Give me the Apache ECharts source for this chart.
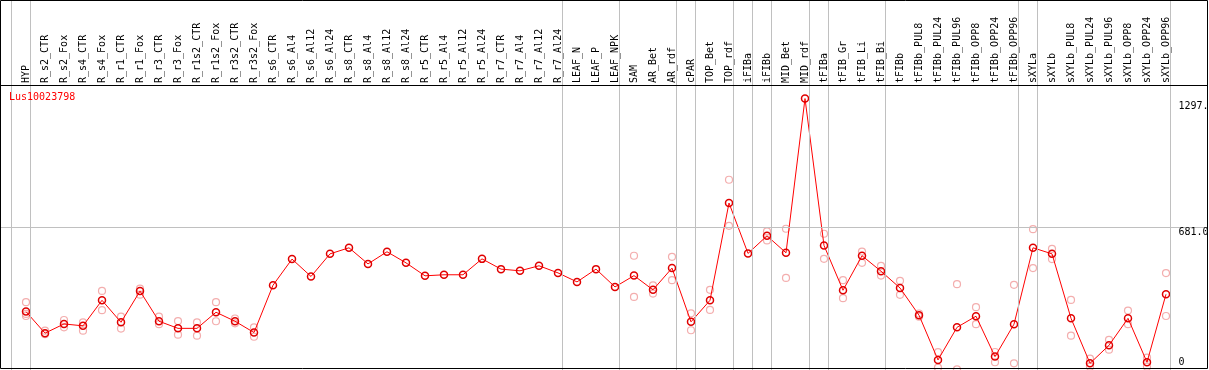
<!DOCTYPE html>
<html><head><meta charset="utf-8">
<script src="https://cdn.jsdelivr.net/npm/echarts@6/dist/echarts.min.js"></script>
<style>html,body{margin:0;padding:0;background:#fff}#c{width:1209px;height:370px}</style>
</head><body><div id="c"></div>
<script>
const categories = ['HYP','R_s2_CTR','R_s2_Fox','R_s4_CTR','R_s4_Fox','R_r1_CTR','R_r1_Fox','R_r3_CTR','R_r3_Fox','R_r1s2_CTR','R_r1s2_Fox','R_r3s2_CTR','R_r3s2_Fox','R_s6_CTR','R_s6_Al4','R_s6_Al12','R_s6_Al24','R_s8_CTR','R_s8_Al4','R_s8_Al12','R_s8_Al24','R_r5_CTR','R_r5_Al4','R_r5_Al12','R_r5_Al24','R_r7_CTR','R_r7_Al4','R_r7_Al12','R_r7_Al24','LEAF_N','LEAF_P','LEAF_NPK','SAM','AR_Bet','AR_rdf','cPAR','TOP_Bet','TOP_rdf','iFIBa','iFIBb','MID_Bet','MID_rdf','tFIBa','tFIB_Gr','tFIB_Li','tFIB_Bi','tFIBb','tFIBb_PUL8','tFIBb_PUL24','tFIBb_PUL96','tFIBb_OPP8','tFIBb_OPP24','tFIBb_OPP96','sXYLa','sXYLb','sXYLb_PUL8','sXYLb_PUL24','sXYLb_PUL96','sXYLb_OPP8','sXYLb_OPP24','sXYLb_OPP96'];
const meanValues = [279,176,220,211,333,228,377,233,199,199,276,233,179,405,530,447,555,584,507,565,512,450,455,455,531,482,474,498,464,421,482,397,451,383,487,230,333,798,557,641,560,1297,595,381,546,472,392,262,48,204,257,64,219,584,555,247,32,118,247,37,362];
const repHigh = [324,188,239,228,378,255,389,255,234,228,324,246,204,null,null,null,null,null,null,null,null,null,null,null,null,null,null,null,null,null,null,null,546,404,541,271,383,909,null,662,675,null,651,429,566,498,426,270,85,410,300,86,407,673,579,335,54,144,284,59,463];
const repLow = [268,171,204,188,286,198,360,219,169,164,233,223,159,null,null,null,null,null,null,null,null,null,null,null,null,null,null,null,null,null,null,null,349,365,429,190,287,689,null,619,440,null,531,343,512,451,359,255,11,3,219,37,32,487,530,164,16,97,219,16,258];
const repExtra = [258,null,null,null,null,null,null,null,null,null,null,null,null,null,null,null,null,null,null,null,null,null,null,null,null,null,null,null,null,null,null,null,null,null,null,null,null,null,null,null,null,null,null,null,null,null,null,null,null,null,null,null,null,null,null,null,null,null,null,null,null];
const separatorAfter = [-1,0,28,31,34,35,37,38,39,41,42,45,52,53,60];
const gridLineValues = [681];
const yTickValues = [0, 681, 1297];
const yTickLabels = ['0', '681.0', '1297.'];
const titleText = 'Lus10023798';

const FONT = 'DejaVu Sans Mono';
const X_MIN = -26 / 19, X_MAX = X_MIN + 1208 / 19;
const Y_MAX = 1768;
const chart = echarts.init(document.getElementById('c'), null, {renderer: 'canvas'});

const repPoints = [];
[repHigh, repLow, repExtra].forEach(arr => arr.forEach((v, i) => { if (v != null) repPoints.push([i, v]); }));

chart.setOption({
  animation: false,
  grid: [
    {left: 0, top: 0, width: 1208, height: 370},
    {left: 16.5, top: 85, width: 1159, height: 284}
  ],
  xAxis: [
    {type: 'value', gridIndex: 0, min: X_MIN, max: X_MAX, show: false},
    {type: 'category', gridIndex: 1, position: 'top', data: categories,
     axisLine: {show: false}, axisTick: {show: false}, splitLine: {show: false},
     axisLabel: {rotate: 90, margin: 2, interval: 0, fontFamily: FONT, fontSize: 10, color: '#000'}}
  ],
  yAxis: [
    {type: 'value', gridIndex: 0, min: 0, max: Y_MAX, show: false},
    {type: 'value', gridIndex: 1, show: false}
  ],
  series: [
    {type: 'scatter', xAxisIndex: 0, yAxisIndex: 0, data: repPoints, symbol: 'circle', symbolSize: 7, silent: true, z: 3,
     itemStyle: {color: 'rgba(0,0,0,0)', borderColor: '#f09a9a', borderWidth: 1.2},
     markLine: {silent: true, symbol: 'none', animation: false, label: {show: false},
       lineStyle: {color: '#c0c0c0', width: 1, type: 'solid'},
       data: separatorAfter.map(i => ({xAxis: i + 0.2368})).concat(gridLineValues.map(v => ({yAxis: v})))}},
    {type: 'line', xAxisIndex: 0, yAxisIndex: 0, data: meanValues.map((v, i) => [i, v]), symbol: 'circle', symbolSize: 7,
     showAllSymbol: true, z: 4, silent: true,
     lineStyle: {color: '#ff0000', width: 1},
     itemStyle: {color: 'rgba(0,0,0,0)', borderColor: '#e00000', borderWidth: 1.5}}
  ]
});

const labelDy = [-8, 4.5, 8];
const graphics = [
  {type: 'rect', z: 100, silent: true, shape: {x: 0.5, y: 0.5, width: 1207, height: 368},
   style: {fill: 'none', stroke: '#000', lineWidth: 1}},
  {type: 'line', z: 100, silent: true, shape: {x1: 0, y1: 85.5, x2: 1208, y2: 85.5},
   style: {stroke: '#000', lineWidth: 1}},
  {type: 'text', z: 100, silent: true, x: 9, y: 97,
   style: {text: titleText, fill: '#ff0000', font: '10px "' + FONT + '"', verticalAlign: 'middle', align: 'left'}}
];
yTickValues.forEach((v, k) => {
  const py = chart.convertToPixel({yAxisIndex: 0}, v);
  graphics.push({type: 'text', z: 100, silent: true, x: 1178.5, y: py + labelDy[k],
    style: {text: yTickLabels[k], fill: '#000', font: '10px "' + FONT + '"', verticalAlign: 'middle', align: 'left'}});
});
chart.setOption({graphic: graphics});
</script>
</body></html>
